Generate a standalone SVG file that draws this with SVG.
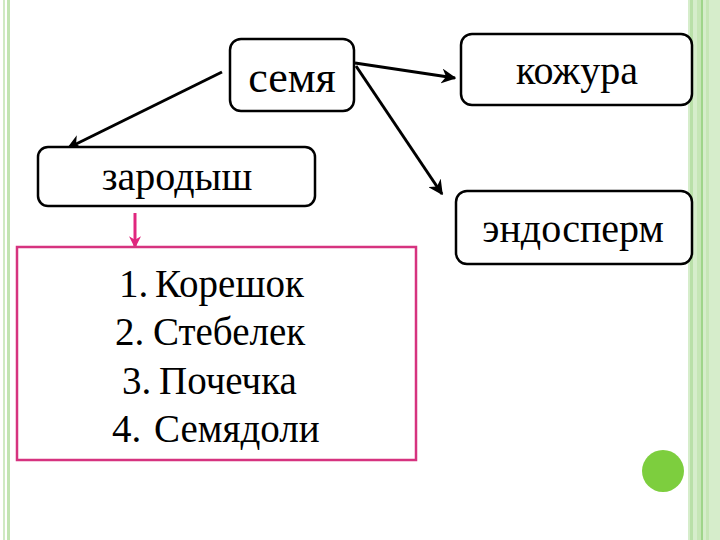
<svg xmlns="http://www.w3.org/2000/svg" width="720" height="540" viewBox="0 0 720 540">
<defs>
<style>
.box{fill:#fff;stroke:#000;stroke-width:2.5}
.t{font-family:'Liberation Serif','DejaVu Serif',serif;fill:#000}
.arr{stroke:#000;stroke-width:3;fill:none;marker-end:url(#ah)}
</style>
<marker id="ah" viewBox="0 0 10 10" refX="9" refY="5" markerWidth="5" markerHeight="5" orient="auto" markerUnits="strokeWidth">
<path d="M0,0 L10,5 L0,10 L3,5 z" fill="#000"/>
</marker>
<marker id="ahp" viewBox="0 0 10 10" refX="9" refY="5" markerWidth="5" markerHeight="4" orient="auto" markerUnits="strokeWidth">
<path d="M0,0 L10,5 L0,10 L3,5 z" fill="#e0267e"/>
</marker>
</defs>
<rect width="720" height="540" fill="#fff"/>
<g id="decor">
<rect x="3" y="0" width="2" height="540" fill="#cfe9c3"/>
<rect x="7" y="0" width="3" height="540" fill="#c2e4b2"/>
<rect x="688" y="0" width="32" height="540" fill="#d6edcb"/>
<rect x="690" y="0" width="3" height="540" fill="#b9e0a8"/>
<rect x="697" y="0" width="4" height="540" fill="#c6e6b6"/>
<rect x="701" y="0" width="2" height="540" fill="#9fd58a"/>
<rect x="706" y="0" width="3" height="540" fill="#c6e6b6"/>
<circle cx="663" cy="471" r="21" fill="#7dce3e"/>
</g>
<g id="connectors">
<line class="arr" x1="222" y1="72" x2="68" y2="148"/>
<line class="arr" x1="355" y1="63" x2="455" y2="78"/>
<line class="arr" x1="356" y1="66" x2="442" y2="194"/>
<line x1="135" y1="213" x2="135" y2="247" stroke="#e0267e" stroke-width="3" marker-end="url(#ahp)"/>
</g>
<g id="semya">
<rect class="box" x="230" y="39" width="124" height="72" rx="11"/>
<text class="t" x="292" y="92" font-size="44" text-anchor="middle">семя</text>
</g>
<g id="kozhura">
<rect class="box" x="461" y="34" width="231" height="71" rx="11"/>
<text class="t" x="577" y="84" font-size="40" text-anchor="middle">кожура</text>
</g>
<g id="zarodysh">
<rect class="box" x="38" y="147" width="277" height="59" rx="10"/>
<text class="t" x="177" y="190" font-size="40" text-anchor="middle">зародыш</text>
</g>
<g id="endosperm">
<rect class="box" x="456" y="191" width="236" height="73" rx="11"/>
<text class="t" x="573" y="242" font-size="40" text-anchor="middle">эндосперм</text>
</g>
<g id="list">
<rect x="17" y="247" width="399" height="213" fill="#fff" stroke="#d6337f" stroke-width="2.5"/>
<text class="t" font-size="39">
<tspan x="119" y="297">1.</tspan><tspan x="155" y="297">Корешок</tspan>
<tspan x="115" y="345">2.</tspan><tspan x="153" y="345">Стебелек</tspan>
<tspan x="122" y="394">3.</tspan><tspan x="159" y="394">Почечка</tspan>
<tspan x="112" y="442">4.</tspan><tspan x="154" y="442">Семядоли</tspan>
</text>
</g>
</svg>
